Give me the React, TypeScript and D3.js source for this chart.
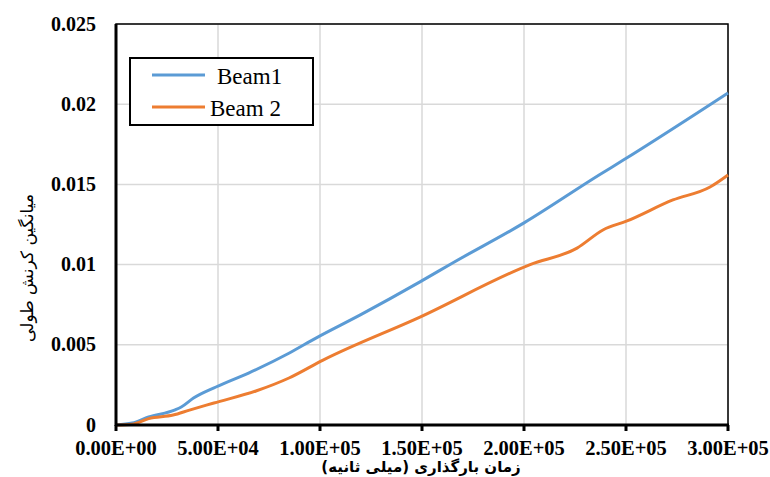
import React, { useRef, useEffect } from 'react';
import * as d3 from 'd3';

// loading time (ms) and mean longitudinal strain
const beam1Time = [0, 8000, 16000, 29000, 32000, 38000, 49000, 65000, 85000, 98000, 120000, 149000, 165000, 200000, 237000, 248500, 300000];
const beam1Strain = [0, 0.00012, 0.0005, 0.00094, 0.00112, 0.00168, 0.00237, 0.00324, 0.00449, 0.00542, 0.00688, 0.00892, 0.0101, 0.0126, 0.0156, 0.0165, 0.0207];

const beam2Time = [0, 8000, 16000, 28000, 36000, 48000, 68600, 84800, 101500, 149000, 203000, 226000, 238700, 250500, 273000, 291200, 300000];
const beam2Strain = [0, 0.00005, 0.0004, 0.00062, 0.00093, 0.00137, 0.00212, 0.00293, 0.00405, 0.00673, 0.01, 0.01103, 0.01216, 0.01272, 0.01403, 0.01484, 0.01559];

const xTicks = [0, 50000, 100000, 150000, 200000, 250000, 300000];
const xTickLabels = ['0.00E+00', '5.00E+04', '1.00E+05', '1.50E+05', '2.00E+05', '2.50E+05', '3.00E+05'];
const yTicks = [0, 0.005, 0.01, 0.015, 0.02, 0.025];
const yTickLabels = ['0', '0.005', '0.01', '0.015', '0.02', '0.025'];

const seriesNames = ['Beam1', 'Beam 2'];
const seriesColors = ['#5B9BD5', '#ED7D31'];

const xTitle = 'زمان بارگذاری (میلی ثانیه)';
const yTitle = 'میانگین کرنش طولی';

const serif = "'Liberation Serif', 'Times New Roman', Times, 'DejaVu Serif', serif";
const arabic = "'DejaVu Sans', sans-serif";

const App: React.FC = () => {
  const svgRef = useRef<SVGSVGElement>(null);

  useEffect(() => {
    const svg = d3.select(svgRef.current);
    svg.selectAll('*').remove();

    const left = 116, right = 728, top = 24, bottom = 425;

    const xScale = d3.scaleLinear().domain([0, 300000]).range([left, right]);
    const yScale = d3.scaleLinear().domain([0, 0.025]).range([bottom, top]);

    svg.append('rect')
      .attr('width', 770).attr('height', 477).attr('fill', 'white');

    // grid lines
    svg.selectAll('.hgrid')
      .data(yTicks.slice(1))
      .join('line')
      .attr('x1', left).attr('x2', right)
      .attr('y1', d => yScale(d)).attr('y2', d => yScale(d))
      .attr('stroke', '#d9d9d9').attr('stroke-width', 1.5);

    svg.selectAll('.vgrid')
      .data(xTicks.slice(1))
      .join('line')
      .attr('x1', d => xScale(d)).attr('x2', d => xScale(d))
      .attr('y1', top).attr('y2', bottom)
      .attr('stroke', '#d9d9d9').attr('stroke-width', 1.5);

    // plot frame
    svg.append('rect')
      .attr('x', left).attr('y', top)
      .attr('width', right - left).attr('height', bottom - top)
      .attr('fill', 'none').attr('stroke', 'black').attr('stroke-width', 1.5);

    const line = d3.line<[number, number]>()
      .x(d => xScale(d[0]))
      .y(d => yScale(d[1]))
      .curve(d3.curveMonotoneX);

    const series: [number, number][][] = [
      beam1Time.map((t, i) => [t, beam1Strain[i]]),
      beam2Time.map((t, i) => [t, beam2Strain[i]]),
    ];

    series.forEach((s, i) => {
      svg.append('path')
        .datum(s)
        .attr('fill', 'none')
        .attr('stroke', seriesColors[i])
        .attr('stroke-width', 3)
        .attr('stroke-linejoin', 'round')
        .attr('d', line);
    });

    // axes lines (heavier)
    svg.append('line')
      .attr('x1', left).attr('x2', left).attr('y1', top).attr('y2', bottom + 1)
      .attr('stroke', 'black').attr('stroke-width', 3);
    svg.append('line')
      .attr('x1', left - 1).attr('x2', right + 1).attr('y1', bottom).attr('y2', bottom)
      .attr('stroke', 'black').attr('stroke-width', 3);

    // x ticks
    svg.selectAll('.xtick')
      .data(xTicks)
      .join('line')
      .attr('x1', d => xScale(d)).attr('x2', d => xScale(d))
      .attr('y1', bottom).attr('y2', bottom + 6)
      .attr('stroke', 'black').attr('stroke-width', 3);

    svg.selectAll('.xlabel')
      .data(xTicks)
      .join('text')
      .attr('x', d => xScale(d))
      .attr('y', 455)
      .attr('text-anchor', 'middle')
      .style('font-family', serif)
      .style('font-weight', 'bold')
      .style('font-size', '20.5px')
      .text((d, i) => xTickLabels[i]);

    svg.selectAll('.ylabel')
      .data(yTicks)
      .join('text')
      .attr('x', 96)
      .attr('y', d => yScale(d) + 6.5)
      .attr('text-anchor', 'end')
      .style('font-family', serif)
      .style('font-weight', 'bold')
      .style('font-size', '20px')
      .text((d, i) => yTickLabels[i]);

    // axis titles
    svg.append('text')
      .attr('x', 421).attr('y', 472)
      .attr('text-anchor', 'middle')
      .style('font-family', arabic)
      .style('font-weight', 'bold')
      .style('font-size', '15px')
      .attr('direction', 'rtl')
      .text(xTitle);

    svg.append('text')
      .attr('transform', 'translate(33,268) rotate(-90)')
      .attr('text-anchor', 'middle')
      .style('font-family', arabic)
      .style('font-size', '17px')
      .attr('direction', 'rtl')
      .text(yTitle);

    // legend
    const legend = svg.append('g');
    legend.append('rect')
      .attr('x', 130).attr('y', 58).attr('width', 183).attr('height', 67)
      .attr('fill', 'white').attr('stroke', 'black').attr('stroke-width', 2);

    seriesNames.forEach((name, i) => {
      const ly = 75 + i * 32;
      legend.append('line')
        .attr('x1', 152).attr('x2', 205).attr('y1', ly).attr('y2', ly)
        .attr('stroke', seriesColors[i]).attr('stroke-width', 3);
      legend.append('text')
        .attr('x', i === 0 ? 217 : 210).attr('y', ly + 9)
        .style('font-family', serif)
        .style('font-size', '23px')
        .text(name);
    });
  }, []);

  return (
    <svg ref={svgRef} width={770} height={477}
      style={{ position: 'absolute', left: 0, top: 0 }} />
  );
};

export default App;
